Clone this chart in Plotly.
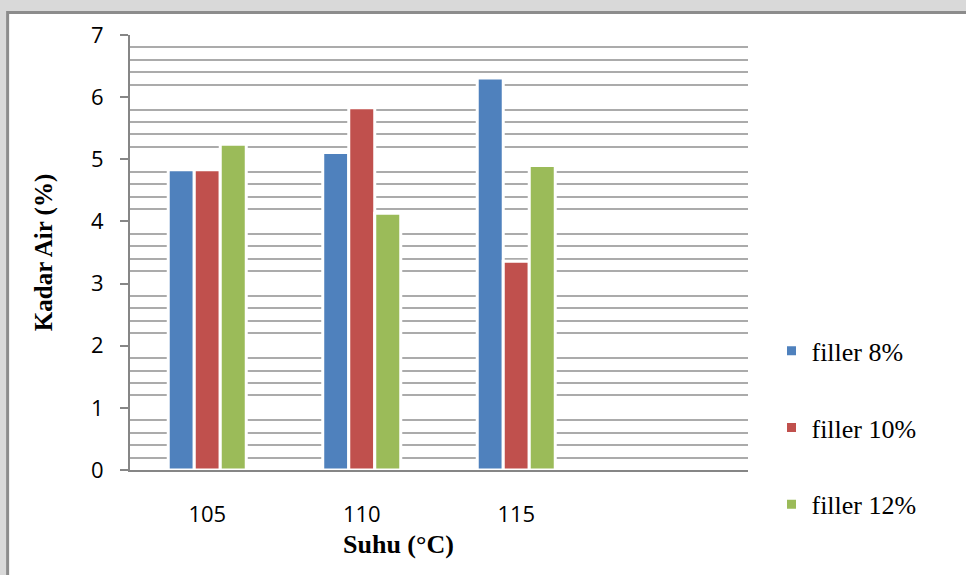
import plotly.graph_objects as go

# Moisture content of the samples at each drying temperature
suhu_labels = ["105", "110", "115"]
suhu_pos = [0, 1, 2]
filler_8 = [4.83, 5.11, 6.31]
filler_10 = [4.83, 5.83, 3.36]
filler_12 = [5.24, 4.13, 4.90]

series = [
    ("filler 8%", filler_8, "#4F81BD"),
    ("filler 10%", filler_10, "#C0504D"),
    ("filler 12%", filler_12, "#9BBB59"),
]

fig = go.Figure()
for i, (name, vals, color) in enumerate(series):
    fig.add_trace(go.Bar(
        x=suhu_pos, y=vals, name=name, legendgroup=f"g{i}",
        marker=dict(color=color, line=dict(color="white", width=3)),
    ))

axis_grey = "#868686"
fig.update_layout(
    width=966, height=575,
    margin=dict(l=130, r=218, t=35, b=105),
    paper_bgcolor="#d9d9d9",
    plot_bgcolor="rgba(0,0,0,0)",
    barmode="group", bargap=0.495, bargroupgap=0,
    font=dict(family="Open Sans", color="#000000"),
    showlegend=True,
    legend=dict(
        x=1.038, y=0.097, xanchor="left", yanchor="middle",
        font=dict(family="Liberation Serif", size=26, color="#000000"),
        tracegroupgap=40, bgcolor="rgba(0,0,0,0)",
    ),
    xaxis=dict(
        range=[-0.5, 3.5], tickvals=suhu_pos, ticktext=suhu_labels,
        showgrid=False, zeroline=False, showline=True,
        linecolor=axis_grey, linewidth=2, ticks="",
        tickfont=dict(family="Open Sans", size=22, color="#000000"),
        ticklabelstandoff=24,
    ),
    yaxis=dict(
        range=[0, 7], dtick=1, showgrid=False, zeroline=False,
        showline=True, linecolor=axis_grey, linewidth=2,
        ticks="outside", ticklen=8, tickwidth=2, tickcolor=axis_grey,
        tickfont=dict(family="Open Sans", size=22, color="#000000"),
        ticklabelstandoff=12,
        minor=dict(dtick=0.2, showgrid=True, gridcolor="#ababab", gridwidth=2, ticks=""),
        title=dict(text="<b>Kadar Air (%)</b>", standoff=31,
                   font=dict(family="Liberation Serif", size=25, color="#000000")),
    ),
    shapes=[dict(
        type="rect", xref="paper", yref="paper", layer="below",
        x0=-0.198, x1=1.5, y0=-0.4, y1=1.0517,
        fillcolor="white", line=dict(color="#8c8c8c", width=3),
    )],
    annotations=[dict(
        text="<b>Suhu (°C)</b>", xref="paper", yref="paper",
        x=0.434, y=-0.172, xanchor="center", yanchor="middle", showarrow=False,
        font=dict(family="Liberation Serif", size=26, color="#000000"),
    )],
)

fig.write_html("out.html")
